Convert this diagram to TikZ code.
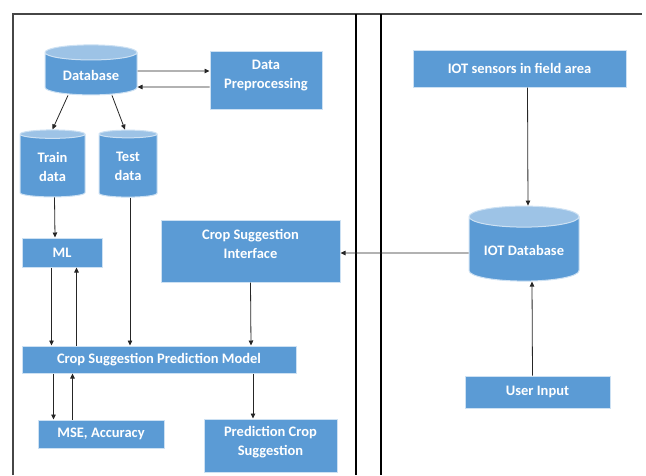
\documentclass[tikz,border=0pt]{standalone}
\usepackage{fontspec}
\setmainfont{Carlito}
\usetikzlibrary{shapes.geometric,arrows.meta,shadows}
\definecolor{boxblue}{RGB}{91,155,213}
\definecolor{topblue}{RGB}{157,195,230}
\definecolor{edgeblue}{RGB}{205,225,243}
\definecolor{framegray}{RGB}{70,70,70}
\begin{document}
\begin{tikzpicture}[x=1pt, y=-1pt,
	box/.style = {rectangle, fill=boxblue, draw=edgeblue, line width=1pt, text=white, align=center,
		font=\bfseries\fontsize{14.5}{19}\selectfont, inner sep=2pt,
		drop shadow={opacity=0.3, shadow xshift=1pt, shadow yshift=-1pt}},
	store/.style = {cylinder, shape border rotate=90, aspect=0.25, cylinder uses custom fill,
		cylinder body fill=boxblue, cylinder end fill=topblue, draw=edgeblue, line width=1pt,
		text=white, align=center, font=\bfseries\fontsize{14.5}{19}\selectfont, inner sep=2pt},
	arr/.style = {-{Triangle[length=5pt,width=4.5pt]}, line width=0.8pt, black!85}]
		\useasboundingbox (0,0) rectangle (646,475);
		%Frame
		\draw[framegray, line width=1.2pt] (13,475) -- (13,14) -- (642,14);
		\draw[black, line width=1.2pt] (356,14) -- (356,475);
		\draw[black, line width=1.2pt] (381,14) -- (381,475);
		%Nodes
		\node[store, minimum width=92, minimum height=50] (db) at (91,75) {Database};
		\node[box, minimum width=112, minimum height=58, text depth=12pt] (prep) at (266,80) {Data\\Preprocessing};
		\node[store, minimum width=65, minimum height=67] (train) at (52.5,166.5) {Train\\data};
		\node[store, minimum width=58, minimum height=67] (test) at (128,166.5) {Test\\data};
		\node[box, minimum width=80, minimum height=29] (ml) at (62,252.5) {ML};
		\node[box, minimum width=179, minimum height=62, text depth=14pt] (iface) at (250.5,251) {Crop Suggestion\\Interface};
		\node[box, minimum width=274, minimum height=27] (model) at (159,359.5) {Crop Suggestion Prediction Model};
		\node[box, minimum width=126, minimum height=28] (mse) at (101,434) {MSE, Accuracy};
		\node[box, minimum width=133, minimum height=53, text depth=10pt] (pcs) at (270.5,445.5) {Prediction Crop\\Suggestion};
		\node[box, minimum width=213, minimum height=37] (iot) at (519.5,68.5) {IOT sensors in field area};
		\node[store, minimum width=110, minimum height=75] (iotdb) at (524,250.5) {IOT Database};
		\node[box, minimum width=145, minimum height=32] (user) at (537.5,392) {User Input};
		% Arrows
		\draw[arr] ([yshift=4]db.east) -- ([yshift=9]prep.west);			% db-prep
		\draw[arr] ([yshift=-7]prep.west) -- ([yshift=-12]db.east);		% prep-db
		\draw[arr] ([xshift=-23]db.south) -- (train.north);			% db-train
		\draw[arr] ([xshift=21]db.south) -- ([xshift=-3]test.north);		% db-test
		\draw[arr] ([xshift=2]train.south) -- ([xshift=-7]ml.north);		% train-ml
		\draw[arr] ([xshift=30]ml.south west) -- ([xshift=30]model.north west);	% ml-model
		\draw[arr] ([xshift=55]model.north west) -- ([xshift=55]ml.south west);	% model-ml
		\draw[arr] ([xshift=2]test.south) -- ([xshift=-29]model.north);		% test-model
		\draw[arr] (iface.south) -- ([xshift=92]model.north);			% iface-model
		\draw[arr] ([xshift=32]model.south west) -- ([xshift=16]mse.north west);	% model-mse
		\draw[arr] ([xshift=35]mse.north west) -- ([xshift=51]model.south west);	% mse-model
		\draw[arr] ([xshift=94]model.south) -- ([xshift=-17.5]pcs.north);	% model-pcs
		\draw[arr] ([xshift=8]iot.south) -- ([xshift=4]iotdb.north);		% iot-iotdb
		\draw[arr] ([yshift=-2.5]iotdb.west) -- ([yshift=-2]iface.east);	% iotdb-iface
		\draw[arr] ([xshift=-5]user.north) -- ([xshift=8]iotdb.south);		% user-iotdb
\end{tikzpicture}
\end{document}
